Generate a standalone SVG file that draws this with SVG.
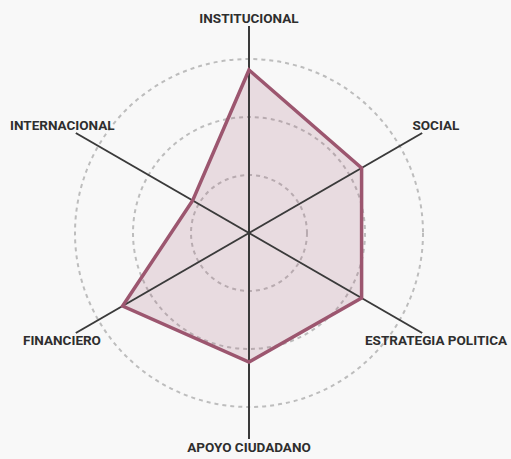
<svg xmlns="http://www.w3.org/2000/svg" width="511" height="459" viewBox="0 0 511 459">
<style>
.ring{fill:none;stroke:#bdbdbd;stroke-width:2;stroke-dasharray:4 4}
.axis{stroke:#3a3a3a;stroke-width:2;stroke-linecap:butt}
.lbl{font-family:Roboto,"Liberation Sans",sans-serif;font-weight:700;font-size:13.5px;fill:#2e2e2e}
.data{fill:#a05a76;fill-opacity:0.18;stroke:#9c566f;stroke-width:3.5;stroke-linejoin:miter}
</style>
<rect width="511" height="459" fill="#f8f8f8"/>
<g id="grid">
<circle class="ring" cx="249" cy="233" r="58"/>
<circle class="ring" cx="249" cy="233" r="116"/>
<circle class="ring" cx="249" cy="233" r="174"/>
</g>
<g id="data-area">
<polygon points="249,70 361.6,168 361.6,298 249,362 122.6,306 192.7,200.5" fill="#a05a76" fill-opacity="0.18" stroke="none"/>
</g>
<g id="connectors">
<line class="axis" x1="249" y1="233" x2="249" y2="26"/>
<line class="axis" x1="249" y1="233" x2="422.2" y2="133"/>
<line class="axis" x1="249" y1="233" x2="422.2" y2="333"/>
<line class="axis" x1="249" y1="233" x2="249" y2="439"/>
<line class="axis" x1="249" y1="233" x2="75.8" y2="333"/>
<line class="axis" x1="249" y1="233" x2="75.8" y2="133"/>
</g>
<g id="data-outline">
<polygon points="249,70 361.6,168 361.6,298 249,362 122.6,306 192.7,200.5" fill="none" stroke="#9c566f" stroke-width="3.5"/>
</g>
<g id="node-institucional"><text class="lbl" x="249" y="22.5" text-anchor="middle">INSTITUCIONAL</text></g>
<g id="node-social"><text class="lbl" x="412.5" y="130">SOCIAL</text></g>
<g id="node-estrategia"><text class="lbl" x="365" y="345">ESTRATEGIA POLITICA</text></g>
<g id="node-apoyo"><text class="lbl" x="249" y="452" text-anchor="middle">APOYO CIUDADANO</text></g>
<g id="node-financiero"><text class="lbl" x="23" y="345">FINANCIERO</text></g>
<g id="node-internacional"><text class="lbl" x="10" y="130">INTERNACIONAL</text></g>
</svg>
